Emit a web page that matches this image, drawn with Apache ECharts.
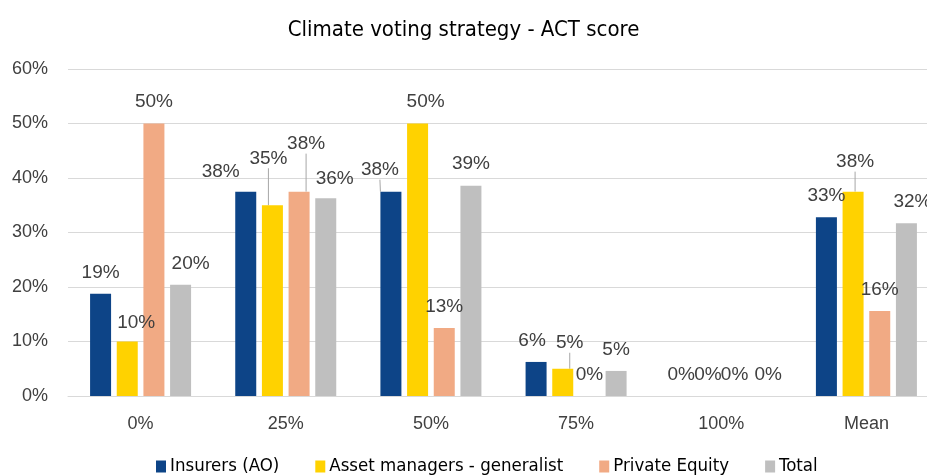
<!DOCTYPE html>
<html>
<head>
<meta charset="utf-8" />
<title>Climate voting strategy - ACT score</title>
<script src="https://cdn.jsdelivr.net/npm/echarts@6/dist/echarts.min.js"></script>
<style>
  * { margin: 0; padding: 0; }
  body { background: #fff; }
  #chart { width: 927px; height: 475px; }
</style>
</head>
<body>
<div id="chart"></div>
<script>
// data, in percent
var categories = ['0%', '25%', '50%', '75%', '100%', 'Mean'];
var seriesNames = ['Insurers (AO)', 'Asset managers - generalist', 'Private Equity', 'Total'];
var insurers = [18.75, 37.5, 37.5, 6.25, 0, 32.8];
var assetManagers = [10, 35, 50, 5, 0, 37.5];
var privateEquity = [50, 37.5, 12.5, 0, 0, 15.6];
var total = [20.4, 36.3, 38.6, 4.6, 0, 31.7];
var yTicks = [0, 10, 20, 30, 40, 50, 60];

// label nudges [dx, dy, leader line] per series, per category
var nudges = [
  [[0, 0], [-25, 2], [-11, 0, true], [-4, 0], [0, 0], [0, 0]],
  [[9, 3], [-4, -25, true], [8, 0], [7, -4, true], [0, 0], [2, -8, true]],
  [[0, 0], [7, -26, true], [0, 0], [0, 0], [0, 0], [0, 0]],
  [[10, 0], [9, 2], [0, 0], [0, 0], [7, 0], [6, 0]]
];
var colors = ['#0d4487', '#ffd200', '#f1aa84', '#bfbfbf'];
var values = [insurers, assetManagers, privateEquity, total];

var chart = echarts.init(document.getElementById('chart'));
var txt = '#404040';
var font = '"Liberation Sans", Arial, sans-serif';
var narrow = '"Liberation Sans Narrow", "Arial Narrow", "DejaVu Sans Condensed", sans-serif';

var series = values.map(function (vals, s) {
  return {
    name: seriesNames[s],
    type: 'bar',
    barWidth: 21,
    barGap: '27%',
    itemStyle: { color: colors[s] },
    data: vals.map(function (v, i) {
      var item = { value: v };
      if (nudges[s][i][2]) item.labelLine = { show: true };
      return item;
    }),
    label: {
      show: true,
      position: 'top',
      distance: 12,
      color: txt,
      fontFamily: font,
      fontSize: 19,
      formatter: function (p) { return Math.round(p.value) + '%'; }
    },
    labelLine: { show: false, lineStyle: { color: '#a6a6a6', width: 1 } },
    labelLayout: function (p) {
      var n = nudges[p.seriesIndex][p.dataIndex];
      return { dx: n[0], dy: n[1] };
    }
  };
});

chart.setOption({
  animation: false,
  title: {
    text: 'Climate voting strategy - ACT score',
    left: 'center',
    top: 14,
    textStyle: { color: '#000', fontFamily: narrow, fontSize: 22, fontWeight: 'normal' }
  },
  legend: {
    top: 452,
    left: 151,
    itemWidth: 10,
    itemHeight: 12,
    itemGap: 36,
    icon: 'rect',
    textStyle: { color: '#000', fontFamily: narrow, fontSize: 18.5, padding: [0, 0, 0, -1] },
    data: seriesNames
  },
  // plot runs past the right edge, as in the original
  grid: { left: 68, width: 871, top: 69, height: 327, outerBoundsMode: 'none', containLabel: false },
  xAxis: {
    type: 'category',
    data: categories,
    axisTick: { show: false },
    axisLine: { lineStyle: { color: '#d9d9d9', width: 1 } },
    axisLabel: { color: txt, fontFamily: font, fontSize: 18, margin: 19 }
  },
  yAxis: {
    type: 'value',
    min: yTicks[0],
    max: yTicks[yTicks.length - 1],
    interval: 10,
    axisLine: { show: false },
    axisTick: { show: false },
    splitLine: { lineStyle: { color: '#d9d9d9', width: 1 } },
    axisLabel: { color: txt, fontFamily: font, fontSize: 18, margin: 20, formatter: '{value}%' }
  },
  series: series
});
</script>
</body>
</html>
